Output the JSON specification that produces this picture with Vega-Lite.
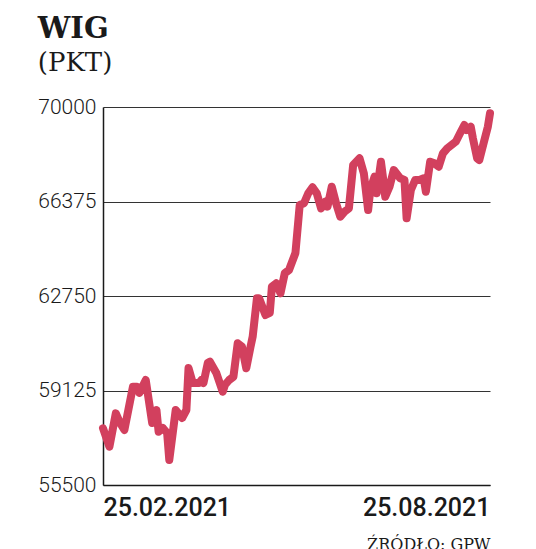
{
  "$schema": "https://vega.github.io/schema/vega-lite/v6.json",
  "autosize": "none",
  "width": 387,
  "height": 378,
  "padding": {"left": 103, "top": 107, "right": 46, "bottom": 64},
  "background": "white",
  "title": {
    "text": "WIG",
    "subtitle": "(PKT)",
    "anchor": "start",
    "frame": "bounds",
    "font": "DejaVu Serif",
    "fontSize": 29,
    "fontWeight": "bold",
    "color": "#1a1a1a",
    "subtitleFont": "DejaVu Serif",
    "subtitleFontSize": 26,
    "subtitleColor": "#1a1a1a",
    "subtitlePadding": 6,
    "offset": 20
  },
  "data": {
    "values": [
      {"date": "2021-02-25", "value": 57675},
      {"date": "2021-02-28", "value": 56969},
      {"date": "2021-03-03", "value": 58250},
      {"date": "2021-03-05", "value": 57878},
      {"date": "2021-03-07", "value": 57610},
      {"date": "2021-03-11", "value": 59271},
      {"date": "2021-03-13", "value": 59271},
      {"date": "2021-03-14", "value": 59029},
      {"date": "2021-03-17", "value": 59528},
      {"date": "2021-03-20", "value": 57878},
      {"date": "2021-03-22", "value": 58377},
      {"date": "2021-03-23", "value": 57545},
      {"date": "2021-03-25", "value": 57687},
      {"date": "2021-03-27", "value": 57495},
      {"date": "2021-03-28", "value": 56459},
      {"date": "2021-03-31", "value": 58377},
      {"date": "2021-04-03", "value": 58070},
      {"date": "2021-04-05", "value": 58377},
      {"date": "2021-04-06", "value": 59988},
      {"date": "2021-04-08", "value": 59413},
      {"date": "2021-04-11", "value": 59413},
      {"date": "2021-04-12", "value": 59528},
      {"date": "2021-04-13", "value": 59413},
      {"date": "2021-04-15", "value": 60180},
      {"date": "2021-04-16", "value": 60230},
      {"date": "2021-04-19", "value": 59796},
      {"date": "2021-04-22", "value": 59079},
      {"date": "2021-04-23", "value": 59336},
      {"date": "2021-04-25", "value": 59528},
      {"date": "2021-04-27", "value": 59654},
      {"date": "2021-04-29", "value": 60936},
      {"date": "2021-05-01", "value": 60805},
      {"date": "2021-05-03", "value": 59977},
      {"date": "2021-05-05", "value": 60805},
      {"date": "2021-05-06", "value": 61189},
      {"date": "2021-05-08", "value": 62662},
      {"date": "2021-05-09", "value": 62662},
      {"date": "2021-05-12", "value": 62021},
      {"date": "2021-05-14", "value": 62098},
      {"date": "2021-05-15", "value": 63107},
      {"date": "2021-05-17", "value": 63237},
      {"date": "2021-05-19", "value": 62854},
      {"date": "2021-05-21", "value": 63621},
      {"date": "2021-05-23", "value": 63747},
      {"date": "2021-05-26", "value": 64400},
      {"date": "2021-05-28", "value": 66241},
      {"date": "2021-05-30", "value": 66306},
      {"date": "2021-06-01", "value": 66690},
      {"date": "2021-06-03", "value": 66920},
      {"date": "2021-06-05", "value": 66690},
      {"date": "2021-06-07", "value": 66114},
      {"date": "2021-06-09", "value": 66368},
      {"date": "2021-06-10", "value": 66176},
      {"date": "2021-06-12", "value": 66943},
      {"date": "2021-06-14", "value": 66306},
      {"date": "2021-06-16", "value": 65792},
      {"date": "2021-06-18", "value": 65984},
      {"date": "2021-06-20", "value": 66114},
      {"date": "2021-06-22", "value": 67775},
      {"date": "2021-06-25", "value": 68032},
      {"date": "2021-06-27", "value": 67457},
      {"date": "2021-06-29", "value": 66049},
      {"date": "2021-06-30", "value": 66816},
      {"date": "2021-07-02", "value": 67326},
      {"date": "2021-07-03", "value": 66690},
      {"date": "2021-07-05", "value": 67902},
      {"date": "2021-07-06", "value": 67265},
      {"date": "2021-07-07", "value": 66559},
      {"date": "2021-07-09", "value": 66943},
      {"date": "2021-07-11", "value": 67583},
      {"date": "2021-07-14", "value": 67265},
      {"date": "2021-07-16", "value": 67200},
      {"date": "2021-07-17", "value": 65731},
      {"date": "2021-07-19", "value": 66816},
      {"date": "2021-07-21", "value": 67200},
      {"date": "2021-07-23", "value": 67200},
      {"date": "2021-07-25", "value": 67265},
      {"date": "2021-07-26", "value": 66751},
      {"date": "2021-07-28", "value": 67902},
      {"date": "2021-07-30", "value": 67840},
      {"date": "2021-08-01", "value": 67710},
      {"date": "2021-08-03", "value": 68224},
      {"date": "2021-08-05", "value": 68416},
      {"date": "2021-08-09", "value": 68669},
      {"date": "2021-08-11", "value": 68991},
      {"date": "2021-08-13", "value": 69310},
      {"date": "2021-08-14", "value": 69118},
      {"date": "2021-08-16", "value": 69244},
      {"date": "2021-08-17", "value": 68800},
      {"date": "2021-08-19", "value": 68032},
      {"date": "2021-08-20", "value": 67967},
      {"date": "2021-08-22", "value": 68607},
      {"date": "2021-08-24", "value": 69244},
      {"date": "2021-08-25", "value": 69758}
    ]
  },
  "mark": {
    "type": "line",
    "color": "#D2405E",
    "strokeWidth": 8,
    "strokeCap": "round",
    "strokeJoin": "round"
  },
  "encoding": {
    "x": {
      "field": "date",
      "type": "temporal",
      "scale": {
        "type": "utc",
        "domain": [
          {"year": 2021, "month": 2, "date": 25, "utc": true},
          {"year": 2021, "month": 8, "date": 25, "utc": true}
        ]
      },
      "axis": {
        "values": [
          {"year": 2021, "month": 2, "date": 25, "utc": true},
          {"year": 2021, "month": 8, "date": 25, "utc": true}
        ],
        "format": "%d.%m.%Y",
        "labelFlush": true,
        "labelFont": "Roboto",
        "labelFontSize": 25,
        "labelFontWeight": 500,
        "labelColor": "#1a1a1a",
        "labelPadding": 10,
        "ticks": false,
        "grid": false,
        "domainColor": "#1a1a1a",
        "domainWidth": 1.5,
        "title": "ŹRÓDŁO: GPW",
        "titleFont": "DejaVu Serif",
        "titleFontSize": 16,
        "titleFontWeight": "normal",
        "titleColor": "#1a1a1a",
        "titleAnchor": "end",
        "titlePadding": 16
      }
    },
    "y": {
      "field": "value",
      "type": "quantitative",
      "scale": {"domain": [55500, 70000], "nice": false, "zero": false},
      "axis": {
        "values": [55500, 59125, 62750, 66375, 70000],
        "format": "d",
        "labelFont": "Roboto",
        "labelFontSize": 21,
        "labelFontWeight": 300,
        "labelColor": "#1a1a1a",
        "labelPadding": 7,
        "ticks": false,
        "grid": true,
        "gridColor": "#333333",
        "gridWidth": 1.2,
        "gridOpacity": 1,
        "domainColor": "#1a1a1a",
        "domainWidth": 1.5,
        "title": null
      }
    }
  },
  "config": {
    "view": {"stroke": null}
  }
}
